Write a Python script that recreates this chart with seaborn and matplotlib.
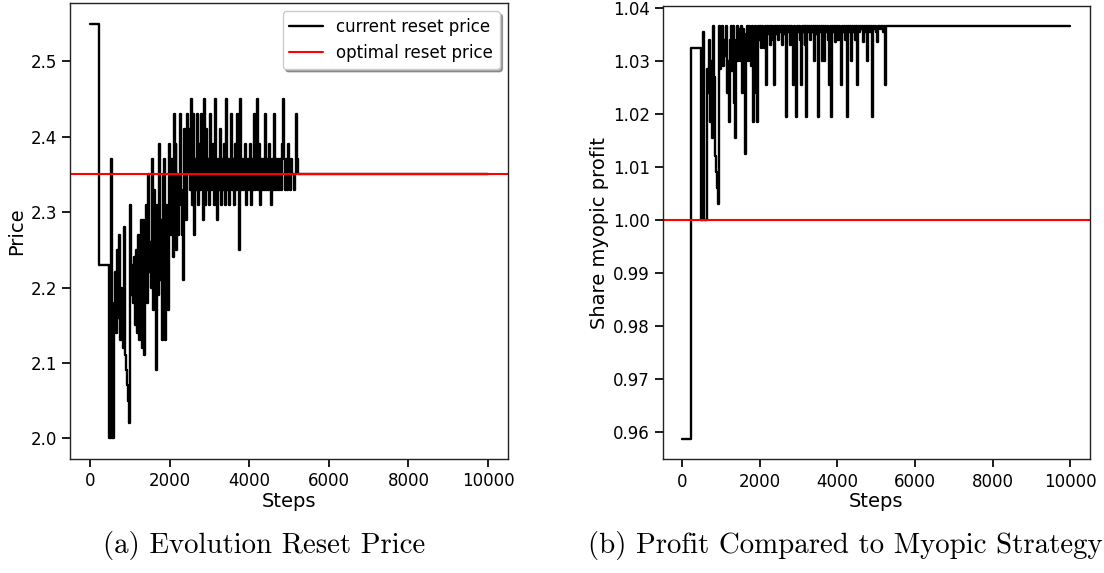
import numpy as np
import pandas as pd
import matplotlib
matplotlib.use("Agg")
import matplotlib.pyplot as plt
import seaborn as sns

# ---------------- data ----------------
head_steps = [0, 220, 490, 530, 550, 590]
price_head = [2.55, 2.23, 2.00, 2.37, 2.00, 2.00]
profit_head = [0.9588, 1.0325, 1.0000, 1.0355, 1.0000, 1.0000]

grid_start = 600
grid_step = 25

price_grid = [
    # 600-975
    2.18, 2.22, 2.14, 2.25, 2.16, 2.27, 2.13, 2.20, 2.15, 2.12, 2.28, 2.11, 2.09, 2.07, 2.05, 2.02,
    # 1000-1475
    2.31, 2.19, 2.23, 2.18, 2.24, 2.15, 2.25, 2.14, 2.27, 2.13, 2.22, 2.29, 2.12, 2.29, 2.11, 2.24, 2.31, 2.18, 2.35, 2.22,
    # 1500-1975
    2.26, 2.20, 2.37, 2.17, 2.33, 2.23, 2.09, 2.31, 2.19, 2.39, 2.21, 2.29, 2.13, 2.35, 2.37, 2.13, 2.31, 2.20, 2.17, 2.39,
    # 2000-2475
    2.33, 2.27, 2.37, 2.24, 2.43, 2.29, 2.39, 2.25, 2.35, 2.27, 2.31, 2.43, 2.33, 2.27, 2.21, 2.41, 2.33, 2.29, 2.43, 2.35,
    # 2500-5225
    2.41, 2.33, 2.45, 2.31, 2.43, 2.27, 2.37, 2.33, 2.43, 2.31,
    2.39, 2.33, 2.43, 2.35, 2.29, 2.45, 2.31, 2.41, 2.33, 2.37,
    2.31, 2.43, 2.33, 2.37, 2.39, 2.31, 2.45, 2.33, 2.29, 2.37,
    2.33, 2.41, 2.31, 2.37, 2.33, 2.39, 2.31, 2.45, 2.33, 2.37,
    2.31, 2.37, 2.43, 2.33, 2.37, 2.31, 2.39, 2.33, 2.43, 2.33,
    2.25, 2.45, 2.33, 2.37, 2.33, 2.37, 2.39, 2.31, 2.33, 2.37,
    2.33, 2.39, 2.31, 2.37, 2.33, 2.43, 2.33, 2.37, 2.45, 2.33,
    2.39, 2.31, 2.37, 2.33, 2.37, 2.33, 2.43, 2.33, 2.37, 2.33,
    2.39, 2.33, 2.31, 2.37, 2.33, 2.43, 2.33, 2.37, 2.33, 2.37,
    2.33, 2.37, 2.33, 2.39, 2.45, 2.37, 2.33, 2.37, 2.33, 2.39,
    2.35, 2.33, 2.37, 2.35, 2.35, 2.33, 2.35, 2.43, 2.37, 2.35,
]

profit_grid = [
    # 600-975
    1.0000, 1.0285, 1.0240, 1.0320, 1.0340, 1.0185, 1.0300, 1.0155, 1.0365, 1.0270, 1.0120, 1.0090, 1.0060, 1.0030, 1.0365, 1.0285,
    # 1000-1475
    1.0310, 1.0365, 1.0290, 1.0340, 1.0310, 1.0365, 1.0240, 1.0300, 1.0185, 1.0340, 1.0365, 1.0280, 1.0365, 1.0220, 1.0155, 1.0340, 1.0365, 1.0300, 1.0360, 1.0330,
    # 1500-1975
    1.0300, 1.0365, 1.0240, 1.0360, 1.0330, 1.0125, 1.0350, 1.0365, 1.0300, 1.0365, 1.0340, 1.0290, 1.0365, 1.0185, 1.0360, 1.0365, 1.0240, 1.0185, 1.0365, 1.0340,
    # 2000-2475
    1.0365, 1.0325, 1.0365, 1.0340, 1.0325, 1.0365, 1.0255, 1.0365, 1.0350, 1.0365, 1.0330, 1.0365, 1.0355, 1.0365, 1.0340, 1.0255, 1.0365, 1.0350, 1.0365, 1.0340,
    # 2500-5225
    1.0365, 1.0355, 1.0365, 1.0330, 1.0365, 1.0350, 1.0365, 1.0195, 1.0365, 1.0355,
    1.0365, 1.0330, 1.0365, 1.0360, 1.0255, 1.0365, 1.0300, 1.0195, 1.0365, 1.0355,
    1.0365, 1.0340, 1.0255, 1.0365, 1.0355, 1.0365, 1.0330, 1.0365, 1.0195, 1.0365,
    1.0355, 1.0365, 1.0340, 1.0365, 1.0355, 1.0365, 1.0300, 1.0365, 1.0350, 1.0365,
    1.0195, 1.0365, 1.0355, 1.0365, 1.0300, 1.0365, 1.0300, 1.0365, 1.0355, 1.0365,
    1.0340, 1.0255, 1.0365, 1.0194, 1.0365, 1.0355, 1.0365, 1.0335, 1.0365, 1.0355,
    1.0365, 1.0340, 1.0365, 1.0355, 1.0255, 1.0365, 1.0355, 1.0365, 1.0340, 1.0365,
    1.0194, 1.0365, 1.0355, 1.0365, 1.0300, 1.0365, 1.0355, 1.0365, 1.0340, 1.0365,
    1.0255, 1.0365, 1.0355, 1.0365, 1.0360, 1.0365, 1.0335, 1.0365, 1.0355, 1.0365,
    1.0300, 1.0365, 1.0360, 1.0365, 1.0355, 1.0365, 1.0194, 1.0365, 1.0360, 1.0365,
    1.0355, 1.0335, 1.0365, 1.0365, 1.0360, 1.0365, 1.0365, 1.0355, 1.0365, 1.0255,
]

tail_steps = [5250, 10000]
price_tail = [2.35, 2.35]
profit_tail = [1.0365, 1.0365]

optimal_price = 2.35
myopic_share = 1.00

grid_steps = list(range(grid_start, grid_start + grid_step * len(price_grid), grid_step))
steps = head_steps + grid_steps + tail_steps
price = price_head + price_grid + price_tail
profit = profit_head + profit_grid + profit_tail

df = pd.DataFrame({"step": steps, "price": price, "profit": profit})

# ---------------- plot ----------------
sns.set_theme(style="ticks")
plt.rcParams["font.family"] = ["DejaVu Sans"]
plt.rcParams.update({
    "axes.edgecolor": "#222222",
    "axes.linewidth": 1.0,
    "text.color": "black",
    "axes.labelcolor": "black",
    "xtick.color": "black",
    "ytick.color": "black",
})

fig = plt.figure(figsize=(11.04, 5.73), dpi=100)
ax1 = fig.add_axes([0.0634, 0.199, 0.3967, 0.7958])
ax2 = fig.add_axes([0.6005, 0.1984, 0.3864, 0.7916])

sns.lineplot(data=df, x="step", y="price", ax=ax1, color="black", linewidth=1.7,
             drawstyle="steps-post", estimator=None, sort=False, label="current reset price")
ax1.axhline(optimal_price, color="red", linewidth=1.5, label="optimal reset price")
ax1.set_xlabel("Steps", fontsize=14, labelpad=1)
ax1.set_ylabel("Price", fontsize=14, labelpad=3)
ax1.set_xticks([0, 2000, 4000, 6000, 8000, 10000])
ax1.set_yticks([2.0, 2.1, 2.2, 2.3, 2.4, 2.5])
ax1.tick_params(labelsize=12)
leg = ax1.legend(loc="upper right", fontsize=12, shadow=True, fancybox=True, framealpha=1)

sns.lineplot(data=df, x="step", y="profit", ax=ax2, color="black", linewidth=1.7,
             drawstyle="steps-post", estimator=None, sort=False, legend=False)
ax2.axhline(myopic_share, color="red", linewidth=1.5)
ax2.set_xlabel("Steps", fontsize=14, labelpad=1)
ax2.set_ylabel("Share myopic profit", fontsize=14, labelpad=3)
ax2.set_xticks([0, 2000, 4000, 6000, 8000, 10000])
ax2.set_yticks([0.96, 0.97, 0.98, 0.99, 1.00, 1.01, 1.02, 1.03, 1.04])
ax2.tick_params(labelsize=12)

for ax in (ax1, ax2):
    for s in ax.spines.values():
        s.set_visible(True)

fig.text(264 / 1104, 1 - 546 / 573, "(a) Evolution Reset Price", ha="center", va="center",
         fontsize=20.8, family=["cmr10", "DejaVu Serif"])
fig.text(845 / 1104, 1 - 546 / 573, "(b) Profit Compared to Myopic Strategy", ha="center", va="center",
         fontsize=20.8, family=["cmr10", "DejaVu Serif"])

fig.savefig("out.png", dpi=100)
